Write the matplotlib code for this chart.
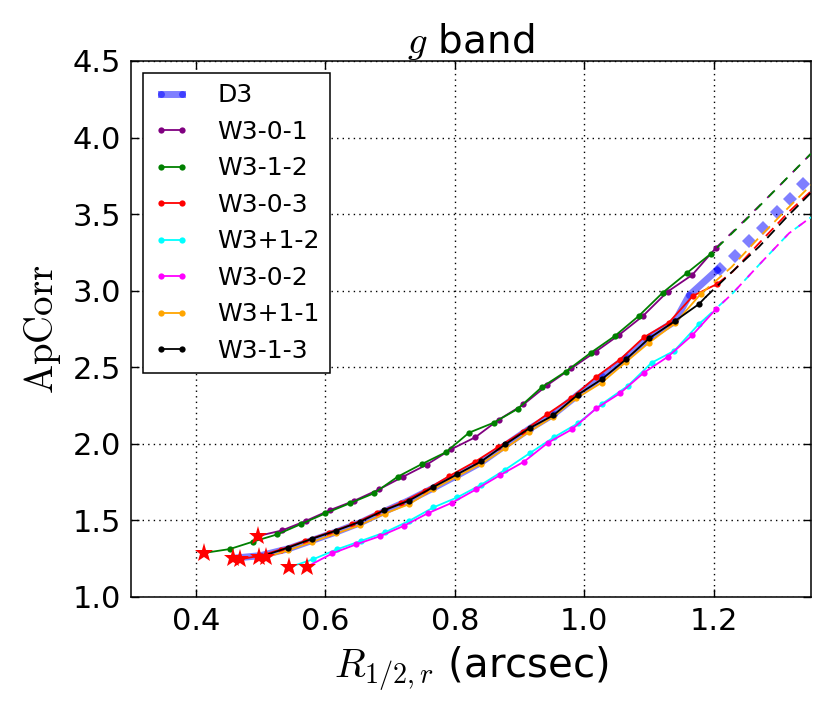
import matplotlib
matplotlib.use("Agg")
import matplotlib.pyplot as plt

plt.rcParams['mathtext.fontset'] = 'cm'
plt.rcParams['font.family'] = ['DejaVu Sans']

# ---------------- data ----------------
labels = ['D3', 'W3-0-1', 'W3-1-2', 'W3-0-3', 'W3+1-2', 'W3-0-2', 'W3+1-1', 'W3-1-3']
colors = ['blue', 'purple', 'green', 'red', 'cyan', 'magenta', 'orange', 'black']

d3_x = [0.4575, 0.500, 0.543, 0.580, 0.617, 0.654, 0.692, 0.729, 0.766, 0.804, 0.841,
        0.878, 0.916, 0.953, 0.990, 1.027, 1.065, 1.102, 1.140, 1.162, 1.205]
d3_y = [1.253, 1.270, 1.315, 1.370, 1.425, 1.485, 1.560, 1.630, 1.710, 1.795, 1.880,
        1.990, 2.100, 2.195, 2.320, 2.440, 2.565, 2.700, 2.800, 2.970, 3.135]

w301_x = [0.496, 0.5335, 0.5706, 0.6076, 0.645, 0.683, 0.7195, 0.7565, 0.7946, 0.8316,
          0.868, 0.906, 0.943, 0.980, 1.0176, 1.0536, 1.0905, 1.1286, 1.1666, 1.2026]
w301_y = [1.398, 1.435, 1.498, 1.568, 1.629, 1.703, 1.784, 1.864, 1.965, 2.043,
          2.158, 2.257, 2.384, 2.493, 2.602, 2.711, 2.835, 2.994, 3.103, 3.277]

w312_x = [0.412, 0.4525, 0.488, 0.526, 0.563, 0.600, 0.638, 0.675, 0.712, 0.749, 0.786,
          0.822, 0.860, 0.897, 0.934, 0.971, 1.010, 1.047, 1.084, 1.121, 1.159, 1.195]
w312_y = [1.287, 1.313, 1.361, 1.409, 1.477, 1.546, 1.612, 1.677, 1.786, 1.868, 1.945,
          2.073, 2.138, 2.228, 2.369, 2.471, 2.595, 2.704, 2.835, 2.987, 3.118, 3.240]

w303_x = [0.468, 0.500, 0.531, 0.568, 0.605, 0.642, 0.680, 0.717, 0.754, 0.7915, 0.8316,
          0.866, 0.905, 0.943, 0.980, 1.0176, 1.055, 1.092, 1.130, 1.1676, 1.205]
w303_y = [1.246, 1.270, 1.310, 1.365, 1.420, 1.475, 1.550, 1.615, 1.695, 1.790, 1.884,
          1.977, 2.080, 2.195, 2.300, 2.435, 2.550, 2.696, 2.790, 2.966, 3.044]

w3p12_x = [0.544, 0.581, 0.618, 0.655, 0.692, 0.730, 0.767, 0.804, 0.841, 0.878, 0.916,
           0.953, 0.990, 1.027, 1.067, 1.104, 1.139, 1.177, 1.187]
w3p12_y = [1.194, 1.246, 1.311, 1.366, 1.422, 1.498, 1.585, 1.651, 1.734, 1.832, 1.940,
           2.043, 2.134, 2.260, 2.378, 2.530, 2.608, 2.783, 2.820]

w302_x = [0.572, 0.611, 0.648, 0.685, 0.721, 0.758, 0.796, 0.833, 0.870, 0.907, 0.944,
          0.981, 1.0186, 1.055, 1.092, 1.129, 1.167, 1.203]
w302_y = [1.198, 1.285, 1.344, 1.398, 1.464, 1.546, 1.616, 1.703, 1.796, 1.884, 2.008,
          2.095, 2.232, 2.330, 2.465, 2.569, 2.711, 2.879]

w3p11_x = [0.508, 0.543, 0.580, 0.617, 0.654, 0.692, 0.730, 0.767, 0.803, 0.841, 0.878,
           0.915, 0.952, 0.9875, 1.027, 1.065, 1.100, 1.140, 1.180]
w3p11_y = [1.259, 1.305, 1.360, 1.415, 1.470, 1.545, 1.607, 1.705, 1.786, 1.870, 1.971,
           2.080, 2.178, 2.297, 2.400, 2.537, 2.661, 2.787, 2.980]

w313_x = [0.4975, 0.543, 0.580, 0.617, 0.654, 0.691, 0.729, 0.766, 0.804, 0.841, 0.878,
          0.916, 0.952, 0.990, 1.027, 1.065, 1.100, 1.140, 1.177, 1.187]
w313_y = [1.259, 1.323, 1.381, 1.434, 1.492, 1.566, 1.629, 1.716, 1.802, 1.886, 1.997,
          2.104, 2.186, 2.321, 2.422, 2.554, 2.689, 2.802, 2.913, 2.957]

# extrapolations
d3_ext_x = [1.209, 1.232, 1.254, 1.276, 1.297, 1.317, 1.338]
d3_ext_y = [3.140, 3.229, 3.325, 3.412, 3.512, 3.597, 3.697]

w301_ext_x = [1.2026, 1.25, 1.30, 1.35]
w301_ext_y = [3.277, 3.470, 3.680, 3.895]
w312_ext_x = [1.195, 1.25, 1.30, 1.35]
w312_ext_y = [3.240, 3.465, 3.680, 3.895]
w303_ext_x = [1.205, 1.229, 1.272, 1.316, 1.35]
w303_ext_y = [3.044, 3.124, 3.320, 3.516, 3.650]
w3p12_ext_x = [1.187, 1.229, 1.272, 1.316, 1.35]
w3p12_ext_y = [2.820, 2.983, 3.179, 3.375, 3.480]
w302_ext_x = [1.203, 1.229, 1.272, 1.316, 1.35]
w302_ext_y = [2.879, 2.983, 3.179, 3.375, 3.480]
w3p11_ext_x = [1.180, 1.227, 1.271, 1.314, 1.35]
w3p11_ext_y = [2.980, 3.153, 3.353, 3.538, 3.690]
w313_ext_x = [1.187, 1.223, 1.270, 1.313, 1.35]
w313_ext_y = [2.957, 3.103, 3.288, 3.483, 3.640]

xticks = [0.4, 0.6, 0.8, 1.0, 1.2]
yticks = [1.0, 1.5, 2.0, 2.5, 3.0, 3.5, 4.0, 4.5]

# ---------------- plot ----------------
fig = plt.figure(figsize=(8.30, 7.12), dpi=100)
ax = fig.add_axes([131/830, 1-597/712, 680/830, 536/712])

ax.plot(d3_x, d3_y, '-o', color='blue', alpha=0.5, lw=5, ms=5, mew=0,
        solid_capstyle='projecting', label=labels[0], zorder=2)
ax.plot(d3_ext_x, d3_ext_y, 'D', color='blue', alpha=0.5, ms=7.5, mew=0, zorder=2)

series = [
    (w301_x, w301_y, w301_ext_x, w301_ext_y, 'purple', labels[1], 0, (5, 5)),
    (w312_x, w312_y, w312_ext_x, w312_ext_y, 'green', labels[2], 5, (5, 5)),
    (w303_x, w303_y, w303_ext_x, w303_ext_y, 'red', labels[3], 0, (6, 3.5)),
    (w3p12_x, w3p12_y, w3p12_ext_x, w3p12_ext_y, 'cyan', labels[4], 0, (5, 5)),
    (w302_x, w302_y, w302_ext_x, w302_ext_y, 'magenta', labels[5], 5, (5, 5)),
    (w3p11_x, w3p11_y, w3p11_ext_x, w3p11_ext_y, 'orange', labels[6], 0, (6, 3.5)),
    (w313_x, w313_y, w313_ext_x, w313_ext_y, 'black', labels[7], 0, (6, 3.5)),
]
for sx, sy, ex, ey, c, lab, off, dash in series:
    n = len(sx)
    mk = list(range(n))
    if lab in ('W3+1-2', 'W3-1-3'):
        mk = list(range(n - 1))
    ax.plot(sx, sy, '-o', color=c, lw=1.3, ms=4.5, mew=0, markevery=mk,
            label=lab, zorder=3)
    ax.plot(ex, ey, color=c, lw=1.3, linestyle=(off, dash), zorder=3)

# red stars at start of each series
starts_x = [d3_x[0], w301_x[0], w312_x[0], w303_x[0], w3p12_x[0], w302_x[0], w3p11_x[0], w313_x[0]]
starts_y = [d3_y[0], w301_y[0], w312_y[0], w303_y[0], w3p12_y[0], w302_y[0], w3p11_y[0], w313_y[0]]
ax.plot(starts_x, starts_y, '*', color='red', ms=14, mew=0, zorder=5)

ax.set_xlim(0.3, 1.35)
ax.set_ylim(1.0, 4.5)
ax.set_xticks(xticks)
ax.set_yticks(yticks)
ax.set_xticklabels([f'{v:.1f}' for v in xticks])
ax.set_yticklabels([f'{v:.1f}' for v in yticks])
ax.tick_params(direction='in', top=True, right=True, length=6, width=1,
               labelsize=22, pad=7)
ax.grid(True, color='black', linestyle=(0, (1, 3)), lw=1)
for s in ax.spines.values():
    s.set_linewidth(1.1)

ax.set_xlabel(r'$R_{1/2,r}$ (arcsec)', fontsize=29)
ax.set_ylabel(r'$\mathrm{ApCorr}$', fontsize=28)
ax.xaxis.set_label_coords(0.5, -0.088)
ax.yaxis.set_label_coords(-0.100, 0.5)
ax.set_title(r'$g$ band', fontsize=28, pad=6)

leg = ax.legend(loc='upper left', bbox_to_anchor=(0.0176, 0.978), borderaxespad=0,
                fontsize=18, numpoints=2, handlelength=1.45, handletextpad=1.1,
                labelspacing=0.5, borderpad=0.42, fancybox=False, framealpha=1,
                edgecolor='black')
leg.get_frame().set_linewidth(1.1)

fig.savefig('out.png', dpi=100)
